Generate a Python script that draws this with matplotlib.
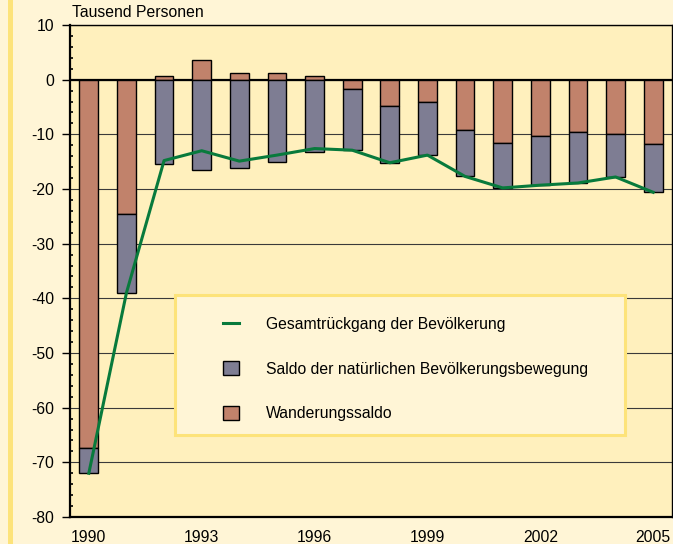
import numpy as np
import matplotlib.pyplot as plt
from matplotlib.lines import Line2D
from matplotlib.patches import Patch, Rectangle
from matplotlib.ticker import MultipleLocator

plt.rcParams['font.family'] = ['Liberation Sans', 'DejaVu Sans']
plt.rcParams['axes.unicode_minus'] = False

years = list(range(1990, 2006))
# Saldo der natuerlichen Bevoelkerungsbewegung (Tsd.)
natural = [-4.7, -14.5, -15.4, -16.6, -16.1, -15.1, -13.2, -11.2,
           -10.3, -9.8, -8.5, -8.2, -9.0, -9.3, -7.9, -8.9]
# Wanderungssaldo (Tsd.)
migration = [-67.3, -24.5, 0.6, 3.6, 1.2, 1.3, 0.6, -1.7,
             -4.9, -4.0, -9.2, -11.6, -10.3, -9.6, -9.9, -11.7]
# Gesamtrueckgang der Bevoelkerung (Tsd.)
total = [-72.0, -39.0, -14.8, -13.0, -14.9, -13.8, -12.6, -12.9,
         -15.2, -13.8, -17.7, -19.8, -19.3, -18.9, -17.8, -20.6]
tick_years = [1990, 1993, 1996, 1999, 2002, 2005]

c_nat = '#7e7d93'
c_mig = '#c1826b'
c_line = '#087a3c'
bg_fig = '#fff5d6'
bg_ax = '#fff0bd'
fs = 11.3

fig = plt.figure(figsize=(6.73, 5.44), dpi=100, facecolor=bg_fig)
ax = fig.add_axes([70 / 673, 27 / 544, 602 / 673, 492 / 544])
ax.set_facecolor(bg_ax)

# yellow stripe at the left edge
fig.patches.append(Rectangle((8 / 673, 0), 5 / 673, 1, transform=fig.transFigure,
                             facecolor='#fde37a', edgecolor='none', zorder=0))

x = np.arange(len(years))
mig = np.array(migration)
nat = np.array(natural)

ax.bar(x, mig, width=0.5, color=c_mig, edgecolor='black', linewidth=1, zorder=3)
ax.bar(x, nat, width=0.5, bottom=np.minimum(mig, 0), color=c_nat,
       edgecolor='black', linewidth=1, zorder=3)
ax.plot(x, total, color=c_line, linewidth=2.2, zorder=4)

ax.set_xlim(-0.5, len(years) - 0.5)
ax.set_ylim(-80, 10)
ax.yaxis.set_major_locator(MultipleLocator(10))
ax.yaxis.set_minor_locator(MultipleLocator(2))
ax.grid(axis='y', which='major', color='#3a3a3a', linewidth=0.8, zorder=1)
ax.set_axisbelow(True)
ax.axhline(0, color='black', linewidth=1.6, zorder=2)

ax.set_xticks([years.index(y) for y in tick_years])
ax.set_xticklabels([str(y) for y in tick_years])
ax.tick_params(axis='x', length=0, pad=9.5, labelsize=fs)
ax.tick_params(axis='y', which='major', length=6, width=1, direction='out',
               pad=5.5, labelsize=fs)
ax.tick_params(axis='y', which='minor', length=2, width=1.2, direction='in')

for s in ['top', 'right']:
    ax.spines[s].set_linewidth(1)
ax.spines['left'].set_linewidth(1.6)
ax.spines['bottom'].set_linewidth(1.6)

ax.text(0.004, 1.01, 'Tausend Personen', transform=ax.transAxes,
        fontsize=fs, ha='left', va='bottom')

# legend box
box = Rectangle((0.1744, 0.167), 0.7476, 0.285, transform=ax.transAxes,
                facecolor=bg_fig, edgecolor='#fde37a', linewidth=2.2, zorder=5)
ax.add_patch(box)

handles = [Line2D([0], [0], color=c_line, linewidth=2.2),
           Patch(facecolor=c_nat, edgecolor='black'),
           Patch(facecolor=c_mig, edgecolor='black')]
labels = ['Gesamtrückgang der Bevölkerung',
          'Saldo der natürlichen Bevölkerungsbewegung',
          'Wanderungssaldo']
leg = ax.legend(handles, labels, loc='upper left', bbox_to_anchor=(0.254, 0.408),
                fontsize=fs, frameon=False, borderpad=0, borderaxespad=0,
                labelspacing=1.85, handlelength=1.0, handleheight=1.05,
                handletextpad=1.75)
leg.set_zorder(6)

fig.savefig('out.png', dpi=100, facecolor=bg_fig)
